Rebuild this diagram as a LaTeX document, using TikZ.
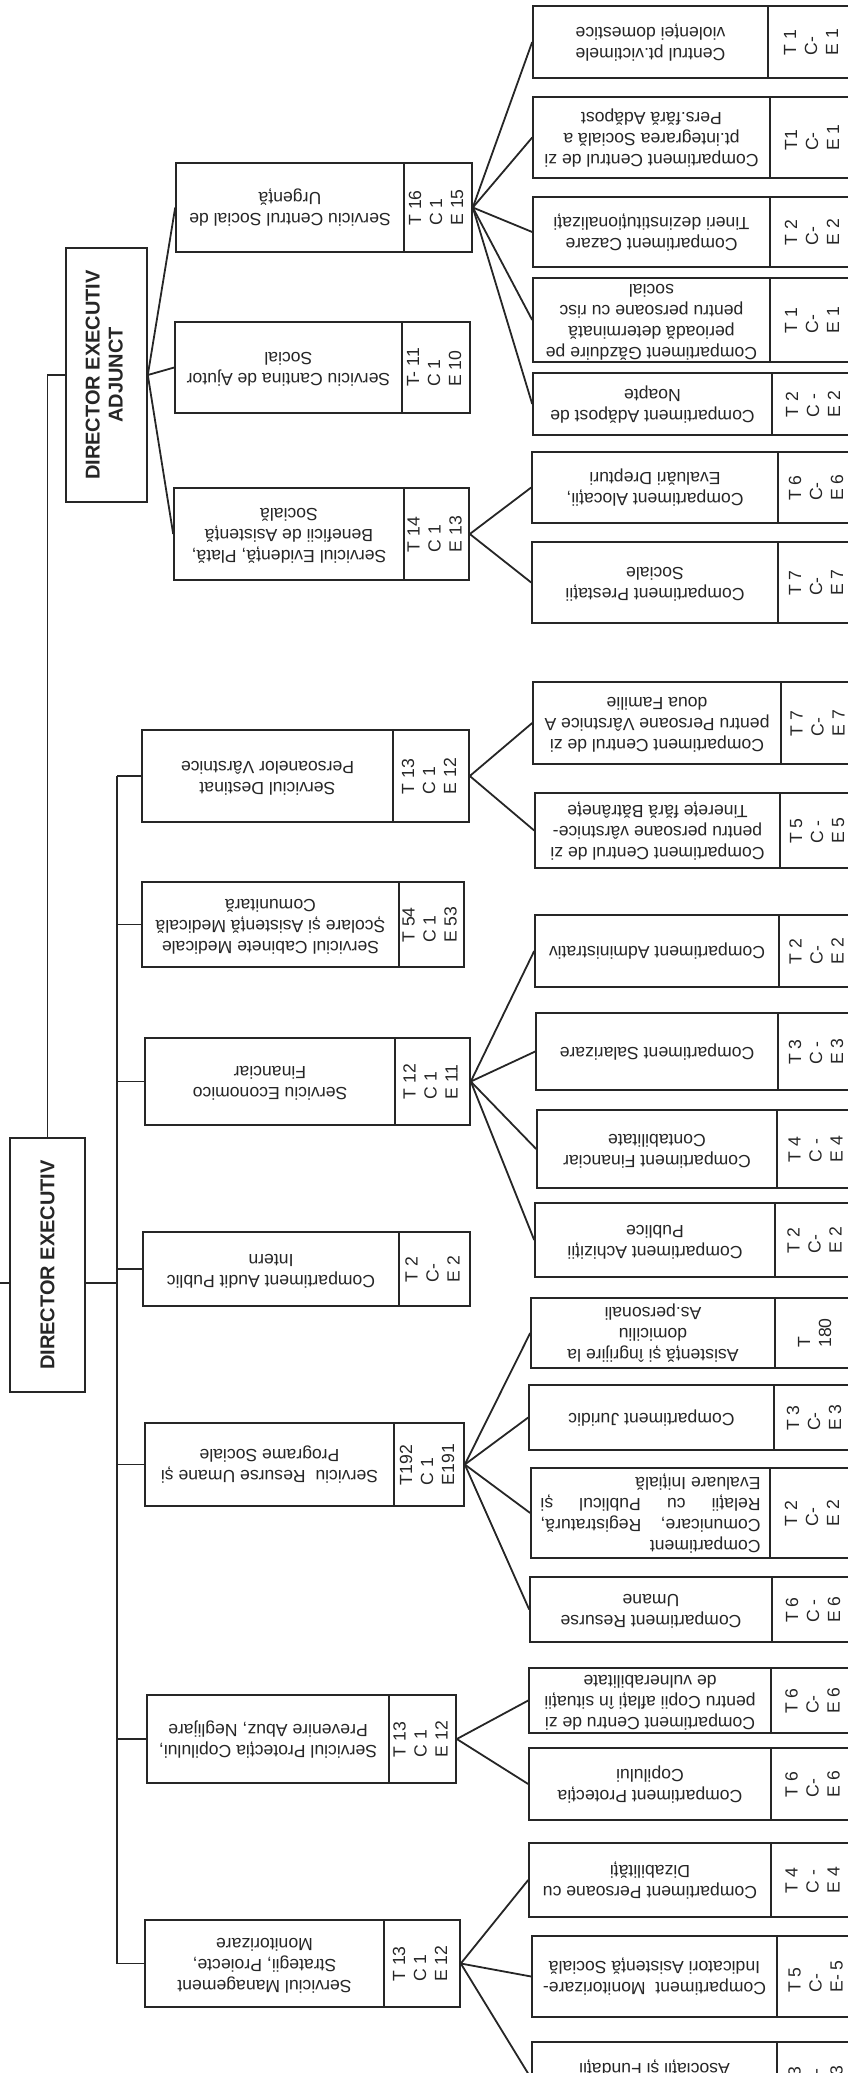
\documentclass[tikz,border=0pt]{standalone}
\usepackage{fontspec}
\setmainfont{Liberation Sans}
\newcommand{\pxu}{0.5pt}
% one box = text part (upside down) + T/C/E part (turned)
\newcommand{\unitbox}[8]{%
  \node[cell, minimum width={(#3-#2)*\pxu}, minimum height={(#6-#5)*\pxu}] (#1) at ({(#2+#3)/2},{(#5+#6)/2}) {\rotatebox{180}{\begin{tabular}{@{}c@{}}#7\end{tabular}}};
  \node[cell, minimum width={(#4-#3)*\pxu}, minimum height={(#6-#5)*\pxu}] (#1-n) at ({(#3+#4)/2},{(#5+#6)/2}) {\rotatebox{90}{\begin{tabular}{@{}l@{}}#8\end{tabular}}};}

\begin{document}
\begin{tikzpicture}[x=0.5pt, y=-0.5pt,
  cell/.style={draw=black!85, line width=0.8pt, inner sep=0pt, text=black!85, font=\fontsize{8.8}{10.5}\selectfont},
  headbox/.style={cell, font=\bfseries\fontsize{10}{11.5}\selectfont},
  link/.style={draw=black!85, line width=0.9pt}]
\useasboundingbox (0,0) rectangle (847,2073);

% directors
\node[headbox, minimum width={75*\pxu}, minimum height={254*\pxu}] (dir) at (47.5,1265) {\rotatebox{90}{DIRECTOR EXECUTIV}};
\node[headbox, minimum width={81*\pxu}, minimum height={254*\pxu}] (adj) at (106.5,375) {\rotatebox{90}{\begin{tabular}{@{}c@{}}DIRECTOR EXECUTIV\\ADJUNCT\end{tabular}}};

% services
\unitbox{urg}{176}{404}{472}{163}{252}{Serviciu Centrul Social de\\Urgență}{T 16\\C 1\\E 15}
\unitbox{cant}{175}{402}{470}{322}{413}{Serviciu Cantina de Ajutor\\Social}{T- 11\\C 1\\E 10}
\unitbox{evid}{174}{404}{469}{488}{580}{Serviciul Evidență, Plată,\\Beneficii de Asistență\\Socială}{T 14\\C 1\\E 13}
\unitbox{dest}{142}{393}{469}{730}{822}{Serviciul Destinat\\Persoanelor Vârstnice}{T 13\\C 1\\E 12}
\unitbox{cab}{142}{399}{464}{882}{967}{Serviciul Cabinete Medicale\\Școlare și Asistență Medicală\\Comunitară}{T 54\\C 1\\E 53}
\unitbox{econ}{145}{395}{470}{1038}{1125}{Serviciu Economico\\Financiar}{T 12\\C 1\\E 11}
\unitbox{audit}{143}{399}{470}{1232}{1306}{Compartiment Audit Public\\Intern}{T 2\\C-\\E 2}
\unitbox{hr}{145}{394}{464}{1423}{1506}{Serviciu\ \ Resurse Umane și\\Programe Sociale}{T192\\C 1\\E191}
\unitbox{prot}{147}{389}{456}{1695}{1783}{Serviciul Protecția Copilului,\\Prevenire Abuz, Neglijare}{T 13\\C 1\\E 12}
\unitbox{mgmt}{145}{384}{460}{1920}{2007}{Serviciul Management\\Strategii, Proiecte,\\Monitorizare}{T 13\\C 1\\E 12}

% compartments
\unitbox{vict}{533}{768}{858}{6}{78}{Centrul pt.victimele\\violenței domestice}{T 1\\C-\\E 1}
\unitbox{adap}{533}{770}{858}{97}{178}{Compartiment Centrul de zi\\pt.integrarea Socială a\\Pers.fără Adăpost}{T1\\C-\\E 1}
\unitbox{caz}{533}{770}{858}{197}{267}{Compartiment Cazare\\Tineri dezinstituționalizați}{T 2\\C-\\E 2}
\unitbox{gaz}{533}{770}{858}{278}{362}{Compartiment Găzduire pe\\perioadă determinată\\pentru persoane cu risc\\social}{T 1\\C-\\E 1}
\unitbox{noap}{533}{772}{858}{373}{435}{Compartiment Adăpost de\\Noapte}{T 2\\C -\\E 2}
\unitbox{aloc}{532}{778}{858}{452}{523}{Compartiment Alocații,\\Evaluări Drepturi}{T 6\\C-\\E 6}
\unitbox{prest}{532}{778}{858}{542}{623}{Compartiment Prestații\\Sociale}{T 7\\C-\\E 7}
\unitbox{vad}{533}{781}{858}{682}{764}{Compartiment Centrul de zi\\pentru Persoane Vârstnice A\\doua Familie}{T 7\\C-\\E 7}
\unitbox{tft}{535}{780}{858}{793}{868}{Compartiment Centrul de zi\\pentru persoane vârstnice-\\Tinerețe fără Bătrânețe}{T 5\\C -\\E 5}
\unitbox{adm}{535}{779}{858}{915}{987}{Compartiment Administrativ}{T 2\\C-\\E 2}
\unitbox{sal}{536}{778}{858}{1013}{1090}{Compartiment Salarizare}{T 3\\C -\\E 3}
\unitbox{fin}{537}{777}{858}{1110}{1188}{Compartiment Financiar\\Contabilitate}{T 4\\C -\\E 4}
\unitbox{ach}{535}{775}{858}{1203}{1277}{Compartiment Achiziții\\Publice}{T 2\\C-\\E 2}
\unitbox{dom}{531}{775}{858}{1298}{1368}{Asistență și îngrijire la\\domiciliu\\As.personali}{T\\180}
\unitbox{jur}{529}{774}{858}{1385}{1450}{Compartiment Juridic}{T 3\\C-\\E 3}
\unitbox{com}{531}{770}{858}{1468}{1558}{\parbox{110pt}{\hyphenpenalty=10000 Compartiment\\\mbox{Comunicare,}\hfill\mbox{Registratură,}\\Relații\hfill cu\hfill Publicul\hfill și\\Evaluare Inițială}}{T 2\\C-\\E 2}
\unitbox{ru}{530}{772}{858}{1577}{1642}{Compartiment Resurse\\Umane}{T 6\\C -\\E 6}
\unitbox{czc}{529}{771}{858}{1668}{1733}{Compartiment Centru de zi\\pentru Copii aflați în situații\\de vulnerabilitate}{T 6\\C-\\E 6}
\unitbox{pc}{529}{771}{858}{1748}{1820}{Compartiment Protecția\\Copilului}{T 6\\C-\\E 6}
\unitbox{diz}{529}{771}{858}{1843}{1917}{Compartiment Persoane cu\\Dizabilități}{T 4\\C -\\E 4}
\unitbox{mon}{532}{777}{858}{1936}{2017}{Compartiment\ \ Monitorizare-\\Indicatori Asistență Socială}{T 5\\C-\\E- 5}
\unitbox{asoc}{532}{777}{858}{2042}{2115}{\mbox{}\\Asociații și Fundații}{T 3\\C -\\E 3}

% connectors
\coordinate (bus) at (117,0);
\coordinate (edge) at (0,1283);
\draw[link] (edge) -- (edge -| dir.west);
\draw[link] (edge -| dir.east) -- (edge -| bus);
\draw[link] (dest.west -| bus) -- (mgmt.west -| bus);
\foreach \s in {dest,cab,econ,audit,hr,prot,mgmt}
  \draw[link] (\s.west -| bus) -- (\s.west);
\draw[link] (dir.north) |- (adj.west);
\foreach \c in {urg,cant,evid}
  \draw[link] (adj.east) -- (\c.west);
\foreach \c in {vict,adap,caz,gaz,noap}
  \draw[link] (urg-n.east) -- (\c.west);
\foreach \c in {aloc,prest}
  \draw[link] (evid-n.east) -- (\c.west);
\foreach \c in {vad,tft}
  \draw[link] (dest-n.east) -- (\c.west);
\foreach \c in {adm,sal,fin,ach}
  \draw[link] (econ-n.east) -- (\c.west);
\foreach \c in {dom,jur,com,ru}
  \draw[link] (hr-n.east) -- (\c.west);
\foreach \c in {czc,pc}
  \draw[link] (prot-n.east) -- (\c.west);
\foreach \c in {diz,mon,asoc}
  \draw[link] (mgmt-n.east) -- (\c.west);
\end{tikzpicture}
\end{document}
